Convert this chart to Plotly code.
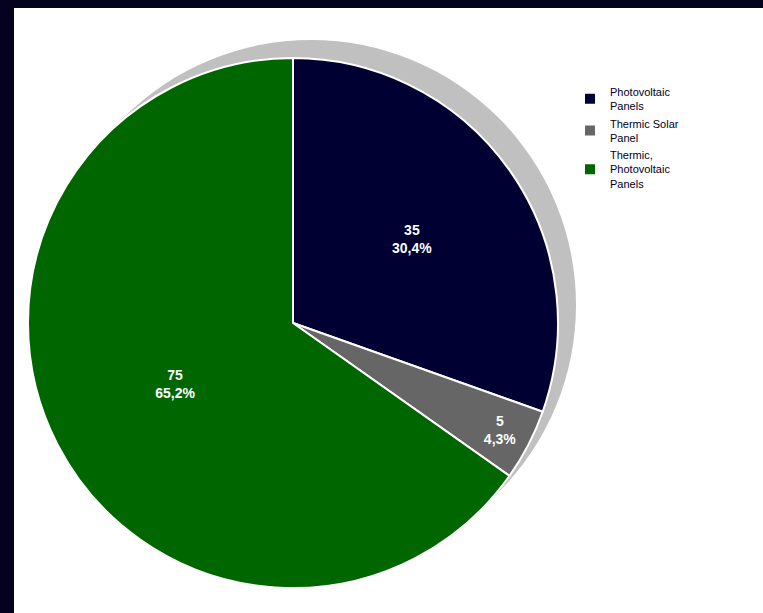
import plotly.graph_objects as go

# Data
labels = ["Photovoltaic<br>Panels", "Thermic Solar<br>Panel", "Thermic,<br>Photovoltaic<br>Panels"]
values = [35, 5, 75]
colors = ["#000033", "#666666", "#006600"]

W, H = 763, 613

def px(x):
    return x / W

def py(y):
    return 1 - y / H

# pie geometry (pixels)
cx, cy, r = 293, 323, 265
shadow_dx, shadow_dy = 18, -18

fig = go.Figure(go.Pie(
    labels=labels,
    values=values,
    sort=False,
    direction="clockwise",
    rotation=0,
    marker=dict(colors=colors, line=dict(color="white", width=2)),
    texttemplate="%{value}<br>%{percent:.1%}",
    textposition="inside",
    insidetextorientation="horizontal",
    textfont=dict(color="white", size=14, family="Liberation Sans, Arial", weight="bold"),
    hoverinfo="label+value+percent",
    domain=dict(x=[px(cx - r), px(cx + r)], y=[py(cy + r), py(cy - r)]),
))

shapes = [
    # white panel inside the dark frame
    dict(type="rect", xref="paper", yref="paper", x0=px(14), x1=1.01, y0=-0.01, y1=py(8),
         fillcolor="white", line=dict(width=0), layer="below"),
    # drop shadow of the pie
    dict(type="circle", xref="paper", yref="paper",
         x0=px(cx + shadow_dx - r), x1=px(cx + shadow_dx + r),
         y0=py(cy + shadow_dy + r), y1=py(cy + shadow_dy - r),
         fillcolor="#c0c0c0", line=dict(width=0), layer="below"),
]

fig.update_layout(
    width=W, height=H,
    margin=dict(l=0, r=0, t=0, b=0),
    paper_bgcolor="#04021e",
    plot_bgcolor="white",
    separators=",.",
    shapes=shapes,
    showlegend=True,
    legend=dict(
        x=px(570), y=py(78), xanchor="left", yanchor="top",
        font=dict(family="Liberation Sans, Arial", size=11, color="#000022"),
        bgcolor="rgba(0,0,0,0)",
        tracegroupgap=0,
        itemwidth=30,
    ),
)

fig.write_html(
    "out.html",
    config={"displayModeBar": False},
    post_script="document.body.style.margin='0';document.body.style.overflow='hidden';",
)
